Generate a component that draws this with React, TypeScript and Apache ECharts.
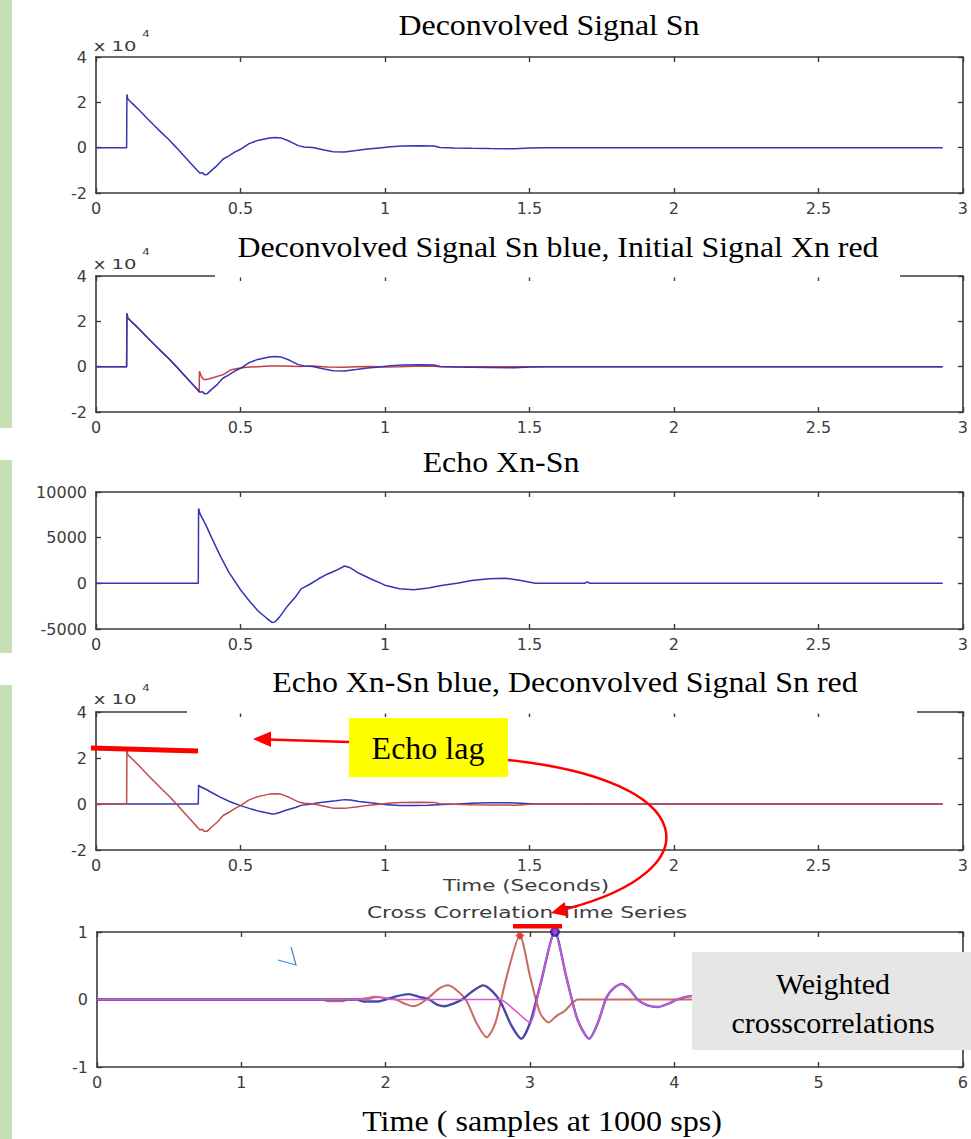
import React, { useEffect, useRef } from "react";
import * as echarts from "echarts";

// Deconvolved signal Sn: [time (s), amplitude]
const deconvolvedSn: [number, number][] = [
  [0, 0], [0.106, 0], [0.107, 23500], [0.11, 21500], [0.115, 20800], [0.13, 19000],
  [0.15, 16500], [0.18, 12500], [0.2, 10000], [0.23, 6200], [0.25, 3800], [0.28, -200],
  [0.3, -3000], [0.33, -7200], [0.35, -10000], [0.36, -11300], [0.368, -11000],
  [0.375, -11900], [0.385, -11800], [0.4, -10000], [0.42, -7800], [0.44, -5000],
  [0.46, -3600], [0.48, -2000], [0.5, -700], [0.53, 1800], [0.56, 3200], [0.6, 4300],
  [0.62, 4500], [0.64, 4300], [0.67, 2800], [0.7, 900], [0.72, 300], [0.75, 100],
  [0.79, -1000], [0.82, -1800], [0.86, -1900], [0.9, -1300], [0.94, -600], [0.98, -100],
  [1.02, 400], [1.06, 700], [1.12, 800], [1.17, 700], [1.19, 100], [1.24, -100],
  [1.3, -300], [1.36, -400], [1.45, -500], [1.5, -100], [1.55, 0], [2.93, 0],
];

// Initial signal Xn: [time (s), amplitude]
const initialXn: [number, number][] = [
  [0, 0], [0.106, 0], [0.107, 23500], [0.11, 21500], [0.15, 16500], [0.2, 10000],
  [0.25, 3800], [0.3, -3000], [0.35, -10000], [0.357, -11200], [0.358, -2000],
  [0.365, -4500], [0.375, -5800], [0.39, -5400], [0.41, -4700], [0.44, -3500],
  [0.465, -1500], [0.49, -800], [0.52, -300], [0.56, 0], [0.6, 300], [0.65, 300],
  [0.7, 100], [0.75, 300], [0.8, -200], [0.86, -300], [0.9, 0], [0.95, 100],
  [1.0, -100], [1.05, 0], [1.1, 200], [1.15, 300], [1.2, 0], [2.93, 0],
];

// Echo Xn - Sn: [time (s), amplitude]
const echoXnSn: [number, number][] = [
  [0, 0], [0.354, 0], [0.355, 8200], [0.36, 7600], [0.38, 6400], [0.4, 5000],
  [0.43, 3000], [0.46, 1200], [0.5, -700], [0.53, -1900], [0.56, -3000], [0.59, -3800],
  [0.61, -4300], [0.62, -4200], [0.635, -3700], [0.66, -2600], [0.69, -1500],
  [0.71, -600], [0.74, -100], [0.77, 500], [0.8, 1000], [0.83, 1400], [0.86, 1900],
  [0.88, 1700], [0.91, 1100], [0.95, 500], [1.0, -200], [1.05, -600], [1.1, -700],
  [1.15, -500], [1.2, -200], [1.25, 0], [1.3, 300], [1.36, 500], [1.42, 550],
  [1.47, 300], [1.52, 0], [1.69, 0], [1.7, 150], [1.71, 0], [2.93, 0],
];

// Weighted cross-correlations: [lag (samples / 1000), correlation]
const xcorrRed: [number, number][] = [
  [0, 0], [1.56, 0], [1.6, -0.025], [1.7, -0.025], [1.74, 0], [1.84, 0.01], [1.93, 0.04],
  [2.0, 0.02], [2.07, 0], [2.13, -0.06], [2.19, -0.1], [2.25, -0.05], [2.31, 0.05],
  [2.37, 0.16], [2.43, 0.21], [2.49, 0.14], [2.56, -0.02], [2.63, -0.35], [2.7, -0.56],
  [2.76, -0.35], [2.84, 0.35], [2.93, 0.95], [3.0, 0.35], [3.07, -0.2], [3.13, -0.34],
  [3.17, -0.27], [3.2, -0.22], [3.24, -0.17], [3.29, -0.06], [3.33, 0], [6, 0],
];
const xcorrBlue: [number, number][] = [
  [0, 0], [1.8, 0], [1.85, -0.03], [1.95, -0.03], [2.0, 0], [2.08, 0.05], [2.16, 0.08],
  [2.23, 0.04], [2.3, 0], [2.36, -0.08], [2.41, -0.1], [2.47, -0.06], [2.53, 0],
  [2.6, 0.12], [2.676, 0.21], [2.74, 0.12], [2.8, -0.05], [2.87, -0.38], [2.94, -0.58],
  [3.0, -0.35], [3.07, 0.2], [3.173, 1.0], [3.25, 0.35], [3.33, -0.3], [3.41, -0.58],
  [3.47, -0.35], [3.53, 0.03], [3.58, 0.17], [3.635, 0.23], [3.69, 0.15], [3.75, -0.01],
  [3.82, -0.09], [3.89, -0.11], [3.96, -0.06], [4.02, 0], [4.08, 0.04], [4.12, 0.05],
  [4.18, 0.02], [4.25, 0], [6, 0],
];
const xcorrMagenta: [number, number][] = [
  [0, 0], [1.88, 0], [1.93, 0.03], [1.99, 0.03], [2.04, 0], [2.79, 0], [2.9, -0.17],
  [3.0, -0.34], [3.06, 0.1], [3.173, 1.0], [3.25, 0.35], [3.33, -0.3], [3.41, -0.58],
  [3.47, -0.35], [3.53, 0.03], [3.58, 0.17], [3.635, 0.23], [3.69, 0.15], [3.75, -0.01],
  [3.82, -0.09], [3.89, -0.11], [3.96, -0.06], [4.02, 0], [4.08, 0.04], [4.12, 0.05],
  [4.18, 0.02], [4.25, 0], [6, 0],
];
const peakRed: [number, number][] = [[2.93, 0.95]];
const peakBlue: [number, number][] = [[3.173, 1.0]];

// Axis ranges
const timeTicks = { min: 0, max: 3, interval: 0.5 };
const lagTicks = { min: 0, max: 6, interval: 1 };
const signalTicks = { min: -20000, max: 40000, interval: 20000 };
const echoTicks = { min: -5000, max: 10000, interval: 5000 };
const corrTicks = { min: -1, max: 1, interval: 1 };

// Texts
const panelTitles = [
  "Deconvolved Signal Sn",
  "Deconvolved Signal Sn blue, Initial Signal Xn red",
  "Echo Xn-Sn",
  "Echo Xn-Sn blue, Deconvolved Signal Sn red",
];
const xcorrTitle = "Cross Correlation Time Series";
const secondsLabel = "Time (Seconds)";
const samplesLabel = "Time ( samples at 1000 sps)";
const echoLagText = "Echo lag";
const weightedLines = ["Weighted", "crosscorrelations"];

const W = 971;
const H = 1139;
const SERIF = '"Liberation Serif", "Times New Roman", serif';
const SANS = '"DejaVu Sans", sans-serif';
const AXIS_COLOR = "#3a3a3a";

const grids = [
  { left: 96, top: 57, width: 867, height: 136 },
  { left: 96, top: 276, width: 867, height: 136 },
  { left: 96, top: 492, width: 867, height: 137 },
  { left: 96, top: 712, width: 867, height: 138 },
  { left: 97, top: 932, width: 866, height: 135 },
];

function axisPair(kind: "x" | "y", gridIndex: number, range: any, fmt: (v: number) => string) {
  const common = {
    type: "value",
    gridIndex,
    min: range.min,
    max: range.max,
    interval: range.interval,
    splitLine: { show: false },
    axisLine: { show: true, onZero: false, lineStyle: { color: AXIS_COLOR, width: 1.6 } },
    axisTick: { show: true, inside: true, length: 5, lineStyle: { color: AXIS_COLOR, width: 1.4 } },
  };
  const label = {
    show: true,
    color: "#3c3c3c",
    fontFamily: SANS,
    fontSize: 16,
    margin: kind === "x" ? 7 : 9,
    formatter: fmt,
  };
  return [
    { ...common, position: kind === "x" ? "bottom" : "left", axisLabel: label },
    { ...common, position: kind === "x" ? "top" : "right", axisLabel: { show: false } },
  ];
}

function lineSeries(data: [number, number][], idx: number, color: string, width = 1.5, smooth: number | boolean = false) {
  return {
    type: "line",
    xAxisIndex: idx * 2,
    yAxisIndex: idx * 2,
    data,
    showSymbol: false,
    symbol: "none",
    smooth,
    lineStyle: { color, width },
    z: 3,
  };
}

function txt(text: string, x: number, y: number, size: number, family: string, fill = "#000", scaleX = 1) {
  return {
    type: "text",
    x,
    y,
    scaleX,
    z: 30,
    style: {
      text,
      x: 0,
      y: 0,
      fill,
      fontSize: size,
      fontFamily: family,
      textAlign: "center",
      textVerticalAlign: "middle",
      align: "center",
      verticalAlign: "middle",
    },
  };
}

export default function App() {
  const ref = useRef<HTMLDivElement>(null);

  useEffect(() => {
    document.body.style.margin = "0";
    if (!ref.current) return;
    const chart = echarts.init(ref.current, undefined, { renderer: "svg" });

    const num = (v: number) => String(v);
    const e4 = (v: number) => String(v / 10000);

    const xAxes = [
      ...axisPair("x", 0, timeTicks, num),
      ...axisPair("x", 1, timeTicks, num),
      ...axisPair("x", 2, timeTicks, num),
      ...axisPair("x", 3, timeTicks, num),
      ...axisPair("x", 4, lagTicks, num),
    ];
    const yAxes = [
      ...axisPair("y", 0, signalTicks, e4),
      ...axisPair("y", 1, signalTicks, e4),
      ...axisPair("y", 2, echoTicks, num),
      ...axisPair("y", 3, signalTicks, e4),
      ...axisPair("y", 4, corrTicks, num),
    ];

    const BLUE = "#3434b6";
    const RED = "#c63e3e";

    const series: any[] = [
      lineSeries(deconvolvedSn, 0, BLUE),
      lineSeries(initialXn, 1, RED),
      lineSeries(deconvolvedSn, 1, BLUE),
      lineSeries(echoXnSn, 2, BLUE),
      lineSeries(echoXnSn, 3, BLUE),
      lineSeries(deconvolvedSn, 3, "#c24a4a"),
      lineSeries(xcorrRed, 4, "#c86a60", 2, 0.25),
      lineSeries(xcorrBlue, 4, "#4848aa", 2.4, 0.25),
      lineSeries(xcorrMagenta, 4, "#d35ad3", 1.6, 0.25),
      {
        type: "scatter",
        xAxisIndex: 8,
        yAxisIndex: 8,
        data: peakRed,
        symbol: "diamond",
        symbolSize: 9,
        itemStyle: { color: "#e02424" },
        z: 5,
      },
      {
        type: "scatter",
        xAxisIndex: 8,
        yAxisIndex: 8,
        data: peakBlue,
        symbol: "circle",
        symbolSize: 10,
        itemStyle: { color: "#1c1c9a" },
        z: 5,
      },
      {
        type: "scatter",
        xAxisIndex: 8,
        yAxisIndex: 8,
        data: peakBlue,
        symbol: "diamond",
        symbolSize: 6,
        itemStyle: { color: "#e040e0" },
        z: 6,
      },
    ];

    const green = "#c6e0b4";
    const graphic: any[] = [
      // green side strips
      { type: "rect", z: 30, shape: { x: 0, y: 0, width: 12, height: 428 }, style: { fill: green } },
      { type: "rect", z: 30, shape: { x: 0, y: 460, width: 12, height: 193 }, style: { fill: green } },
      { type: "rect", z: 30, shape: { x: 0, y: 685, width: 12, height: 454 }, style: { fill: green } },
      // title backgrounds that cut into the top frame lines
      { type: "rect", z: 25, shape: { x: 215, y: 236, width: 685, height: 41.5 }, style: { fill: "#fff" } },
      { type: "rect", z: 25, shape: { x: 187, y: 668, width: 730, height: 45.5 }, style: { fill: "#fff" } },
      // panel titles
      txt(panelTitles[0], 549, 25, 29, SERIF, "#000", 1.1),
      txt(panelTitles[1], 558, 247, 29, SERIF, "#000", 1.1),
      txt(panelTitles[2], 501, 462, 29, SERIF, "#000", 1.1),
      txt(panelTitles[3], 565, 682, 29, SERIF, "#000", 1.1),
      txt(samplesLabel, 542, 1121, 30, SERIF, "#000", 1.07),
      // MATLAB-style labels
      txt(secondsLabel, 526, 886, 15, SANS, "#3c3c3c", 1.43),
      txt(xcorrTitle, 527, 913, 15, SANS, "#3c3c3c", 1.45),
      // exponent labels
      txt("x 10", 115, 46, 14, SANS, "#3c3c3c", 1.4),
      txt("4", 146, 34, 9, SANS, "#3c3c3c", 1.3),
      txt("x 10", 115, 264, 14, SANS, "#3c3c3c", 1.4),
      txt("4", 146, 252, 9, SANS, "#3c3c3c", 1.3),
      txt("x 10", 115, 699, 14, SANS, "#3c3c3c", 1.4),
      txt("4", 146, 688, 9, SANS, "#3c3c3c", 1.3),
      // echo level bar
      { type: "line", z: 30, shape: { x1: 91, y1: 748, x2: 198, y2: 751 }, style: { stroke: "#ff0000", lineWidth: 5 } },
      // Echo lag box and arrows
      { type: "rect", z: 30, shape: { x: 349, y: 718, width: 159, height: 59 }, style: { fill: "#ffff00" } },
      txt(echoLagText, 428, 748, 32, SERIF),
      { type: "line", z: 30, shape: { x1: 268, y1: 739.5, x2: 349, y2: 742 }, style: { stroke: "#ff0000", lineWidth: 2.5 } },
      { type: "polygon", z: 30, shape: { points: [[253, 739], [271, 731.5], [271, 747]] }, style: { fill: "#ff0000" } },
      {
        type: "bezierCurve",
        z: 30,
        shape: { x1: 508, y1: 760, cpx1: 700, cpy1: 780, cpx2: 715, cpy2: 870, x2: 566, y2: 909 },
        style: { stroke: "#ff0000", lineWidth: 2.5, fill: "none" },
      },
      { type: "polygon", z: 30, shape: { points: [[551, 913], [568.5, 916.5], [564.5, 902]] }, style: { fill: "#ff0000" } },
      // lag bar over the correlation peaks
      { type: "rect", z: 30, shape: { x: 513, y: 924, width: 49, height: 4.5 }, style: { fill: "#ff0000" } },
      // small pen mark
      { type: "polyline", z: 30, shape: { points: [[278, 960], [296, 965], [291, 947]] }, style: { stroke: "#3d85d6", lineWidth: 1.2, fill: "none" } },
      // weighted cross-correlation note
      { type: "rect", z: 30, shape: { x: 692, y: 952, width: 279, height: 98 }, style: { fill: "#e6e6e6" } },
      txt(weightedLines[0], 833, 983, 30, SERIF),
      txt(weightedLines[1], 833, 1022, 30, SERIF),
    ];

    chart.setOption({
      animation: false,
      backgroundColor: "#ffffff",
      grid: grids.map((g) => ({ ...g, containLabel: false })),
      xAxis: xAxes,
      yAxis: yAxes,
      series,
      graphic,
    });

    return () => chart.dispose();
  }, []);

  return <div ref={ref} style={{ width: W, height: H }} />;
}
